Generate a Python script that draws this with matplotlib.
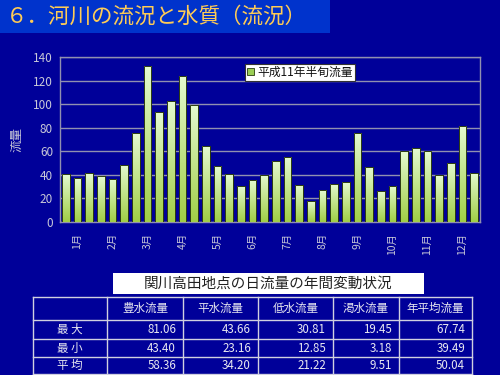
import matplotlib
matplotlib.use("Agg")
import matplotlib.pyplot as plt
import numpy as np
from matplotlib.colors import LinearSegmentedColormap
from matplotlib.patches import Patch

plt.rcParams['font.family'] = ['Noto Sans CJK JP', 'DejaVu Sans']

# ---- data ----
flow = [40.4, 37.0, 41.3, 39.0, 36.5, 48.4, 75.5, 132.0, 93.0, 102.7, 123.9, 99.3,
        64.2, 47.2, 40.4, 30.3, 36.0, 40.2, 52.0, 54.9, 31.4, 17.8, 27.1, 32.5,
        33.7, 75.5, 46.7, 26.6, 30.8, 60.2, 62.5, 60.2, 39.6, 50.1, 81.7, 41.9]
months = ['1月', '2月', '3月', '4月', '5月', '6月', '7月', '8月', '9月', '10月', '11月', '12月']
series_name = '平成11年半旬流量'
title = '６．河川の流況と水質（流況）'
ylabel = '流量'
yticks = [0, 20, 40, 60, 80, 100, 120, 140]

table_title = '関川高田地点の日流量の年間変動状況'
col_labels = ['豊水流量', '平水流量', '低水流量', '渇水流量', '年平均流量']
row_labels = ['最 大', '最 小', '平 均']
tbl_max = ['81.06', '43.66', '30.81', '19.45', '67.74']
tbl_min = ['43.40', '23.16', '12.85', '3.18', '39.49']
tbl_avg = ['58.36', '34.20', '21.22', '9.51', '50.04']

BG = '#000099'
W, H = 500, 375
fig = plt.figure(figsize=(5, 3.75), dpi=100, facecolor=BG)

# background / overlay axes in pixel coordinates
bg = fig.add_axes([0, 0, 1, 1], zorder=0)
bg.set_xlim(0, W)
bg.set_ylim(H, 0)
bg.axis('off')
bg.set_facecolor(BG)
bg.add_patch(plt.Rectangle((0, 0), 330, 33, facecolor='#0033CC', edgecolor='none'))
bg.text(6, 17, title, color='#FFCC55', fontsize=15.5, va='center', ha='left')

# ---- chart ----
ax = fig.add_axes([60 / W, 1 - 222 / H, 420 / W, 165 / H], zorder=2)
ax.set_facecolor(BG)
x = np.arange(len(flow))
bars = ax.bar(x, flow, width=0.68, color='#C8F0A0', edgecolor='#2A3A10', linewidth=0.7,
              zorder=3)
grad = np.linspace(0, 1, 100).reshape(-1, 1)
cmap = LinearSegmentedColormap.from_list('g', ['#A0CE45', '#E4FAD0'])
for b in bars:
    x0, y0 = b.get_x(), b.get_y()
    im = ax.imshow(grad, extent=(x0, x0 + b.get_width(), y0, y0 + b.get_height()),
                   origin='lower', cmap=cmap, aspect='auto', zorder=3.5)
    im.set_clip_path(b)
    ax.add_patch(plt.Rectangle((x0, y0), b.get_width(), b.get_height(), fill=False,
                               edgecolor='#2A3A10', linewidth=0.7, zorder=4))
ax.set_xlim(-0.5, len(flow) - 0.5)
ax.set_ylim(0, 140)
ax.set_yticks(yticks)
ax.yaxis.grid(True, color='#9090B0', linewidth=1.0, zorder=1)
ax.set_axisbelow(True)
for s in ax.spines.values():
    s.set_color('#9090B0')
    s.set_linewidth(1.0)
ax.tick_params(axis='y', colors='#C8C8D8', labelsize=8.5, length=0, pad=5)
ax.set_xticks(np.arange(1, len(flow), 3))
ax.set_xticklabels(months, rotation=90, color='#C8C8D8', fontsize=7.5)
ax.tick_params(axis='x', length=0, pad=8)
ax.set_ylabel(ylabel, color='#C8C8D8', fontsize=9, labelpad=7)
handle = Patch(facecolor='#9ACD55', edgecolor='#2A3A10', linewidth=0.6, label=series_name)
leg = ax.legend(handles=[handle], loc='upper left', bbox_to_anchor=(185 / 420, 1 - 7 / 165),
                fontsize=8.5, frameon=True, fancybox=False, borderpad=0.15,
                handlelength=0.6, handleheight=0.6, handletextpad=0.3, borderaxespad=0)
leg.get_frame().set_facecolor('white')
leg.get_frame().set_edgecolor('#333333')
leg.get_frame().set_linewidth(0.8)
leg.get_frame().set_alpha(1)
for t in leg.get_texts():
    t.set_color('#111111')

# ---- table ----
bg.add_patch(plt.Rectangle((113, 273), 311, 21, facecolor='white', edgecolor='none', zorder=1))
bg.text((113 + 424) / 2, 284, table_title, color='#222222', fontsize=10.5, ha='center',
        va='center', zorder=2)
cols = [33, 107, 183, 258, 333, 399, 472]
rows = [297, 320, 339, 357, 374]
lc = '#D0D0E0'
for cx in cols:
    bg.plot([cx, cx], [rows[0], rows[-1]], color=lc, lw=1.0, zorder=2)
for ry in rows:
    bg.plot([cols[0], cols[-1]], [ry, ry], color=lc, lw=1.0, zorder=2)
tc = '#E8E8F0'
for j, lab in enumerate(col_labels):
    bg.text((cols[j + 1] + cols[j + 2]) / 2, (rows[0] + rows[1]) / 2, lab, color=tc,
            fontsize=8.3, ha='center', va='center', zorder=3)
for i, (lab, vals) in enumerate(zip(row_labels, [tbl_max, tbl_min, tbl_avg])):
    yc = (rows[i + 1] + rows[i + 2]) / 2
    bg.text((cols[0] + cols[1]) / 2, yc, lab, color=tc, fontsize=8.3, ha='center',
            va='center', zorder=3)
    for j, v in enumerate(vals):
        bg.text(cols[j + 2] - 7, yc, v, color=tc, fontsize=8.3, ha='right', va='center',
                zorder=3)

fig.savefig('out.png', dpi=100, facecolor=BG)
